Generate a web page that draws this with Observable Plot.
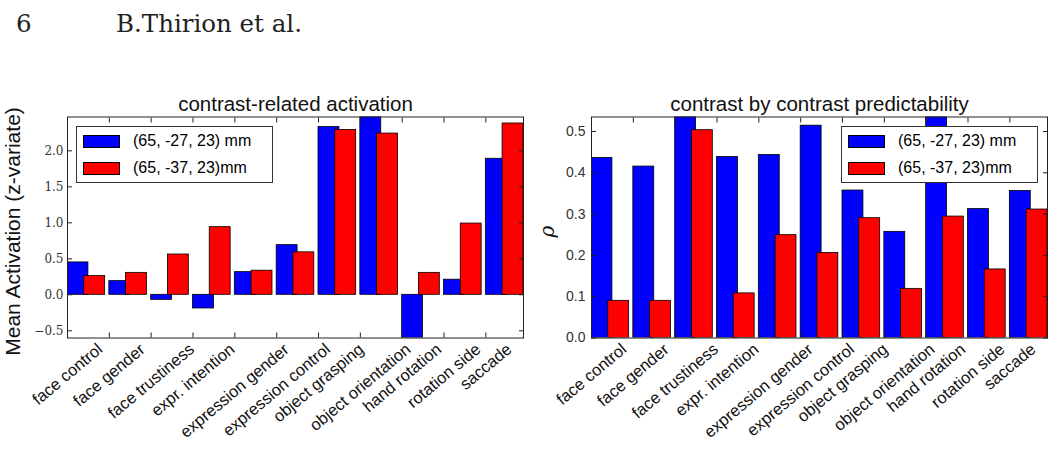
<!DOCTYPE html>
<html><head><meta charset="utf-8">
<script src="https://cdn.jsdelivr.net/npm/d3@7"></script>
<script src="https://cdn.jsdelivr.net/npm/@observablehq/plot@0.6"></script>
<style>
body{margin:0;background:#fff;width:1060px;height:453px;overflow:hidden;position:relative;font-family:"Liberation Sans",Arial,sans-serif;color:#000}
.abs{position:absolute}
.hdr{font-family:"DejaVu Serif",serif;font-size:24.5px;color:#222;line-height:1;white-space:nowrap}
.legend{position:absolute;width:197px;height:57px;border:1px solid #333;background:#fff;box-sizing:border-box}
.legend .row{position:absolute;left:6px;height:14px;display:flex;align-items:center;white-space:nowrap;font-size:16px}
.legend .sw{width:37px;height:13px;border:1px solid #000;box-sizing:border-box;margin-right:13px}
svg{overflow:visible}
</style></head><body>
<div class="abs hdr" style="left:16px;top:12px">6</div>
<div class="abs hdr" style="left:116px;top:12px">B.Thirion et al.</div>
<div id="left" class="abs" style="left:0;top:0"></div>
<div id="right" class="abs" style="left:530px;top:0"></div>
<script>
const categories = ["face control","face gender","face trustiness","expr. intention","expression gender","expression control","object grasping","object orientation","hand rotation","rotation side","saccade"];
const activationBlue = [0.45, 0.19, -0.07, -0.19, 0.315, 0.69, 2.33, 2.47, -0.6, 0.21, 1.89];
const activationRed  = [0.26, 0.305, 0.56, 0.94, 0.335, 0.59, 2.29, 2.24, 0.305, 0.99, 2.38];
const predictBlue = [0.436, 0.415, 0.535, 0.438, 0.443, 0.514, 0.357, 0.257, 0.535, 0.312, 0.356];
const predictRed  = [0.09, 0.09, 0.503, 0.108, 0.249, 0.206, 0.29, 0.119, 0.294, 0.166, 0.311];
const seriesNames = ["(65, -27, 23) mm", "(65, -37, 23)mm"];
const seriesColors = ["#0000ff", "#ff0000"];
const activationTicks = [-0.5, 0, 0.5, 1, 1.5, 2];
const rhoTicks = [0, 0.1, 0.2, 0.3, 0.4, 0.5];

function makeChart(cfg) {
  const idx = d3.range(categories.length);
  const blueRows = idx.map(i => ({i, v: cfg.blue[i]}));
  const redRows = idx.map(i => ({i, v: cfg.red[i]}));
  const yDomain = [Math.min(0, d3.min(cfg.blue), d3.min(cfg.red)), Math.max(d3.max(cfg.blue), d3.max(cfg.red))];
  const fmt = d3.format(".1f");
  return Plot.plot({
    width: 530, height: 453,
    marginTop: 116.5, marginBottom: 115.5, marginLeft: cfg.marginLeft, marginRight: cfg.marginRight,
    style: {fontFamily: '"Liberation Sans", Arial, sans-serif', background: "transparent"},
    x: {domain: [0, categories.length - 0.1], axis: null},
    y: {domain: yDomain, axis: null},
    marks: [
      Plot.rect(blueRows, {x1: d => d.i, x2: d => d.i + 0.5, y1: 0, y2: "v", fill: seriesColors[0], stroke: "#000", strokeWidth: 0.8, clip: true}),
      Plot.rect(redRows, {x1: d => d.i + 0.4, x2: d => d.i + 0.9, y1: 0, y2: "v", fill: seriesColors[1], stroke: "#000", strokeWidth: 0.8, clip: true}),
      Plot.frame({stroke: "#222", strokeWidth: 1}),
      Plot.axisX({anchor: "bottom", ticks: idx, tickSize: -5, tickFormat: () => "", label: null, stroke: "#222"}),
      Plot.axisX({anchor: "top", ticks: idx, tickSize: -5, tickFormat: () => "", label: null, stroke: "#222"}),
      Plot.axisY({anchor: "left", ticks: cfg.yTicks, tickSize: -5, tickFormat: () => "", label: null, stroke: "#222"}),
      Plot.axisY({anchor: "right", ticks: cfg.yTicks, tickSize: -5, tickFormat: () => "", label: null, stroke: "#222"}),
      Plot.text(cfg.yTicks, {x: 0, y: d => d, text: d => fmt(d), textAnchor: "end", dx: cfg.tickPad, fontSize: cfg.tickFontSize, fontFamily: cfg.tickFont, fill: "#333"}),
      Plot.text(categories, {x: (d, i) => i, frameAnchor: "bottom", text: d => d, rotate: -40, textAnchor: "middle", lineAnchor: "middle", fontSize: 16.5, fill: "#111"}),
      Plot.text([cfg.title], {frameAnchor: "top", textAnchor: "middle", lineAnchor: "bottom", dy: -6, fontSize: 20.5, fill: "#111"}),
      Plot.text([cfg.ylabel], {frameAnchor: "left", textAnchor: "middle", lineAnchor: "middle", rotate: -90, dx: cfg.ylabelDx, dy: 4, fontSize: cfg.ylabelSize, fontFamily: cfg.ylabelFont, fontStyle: cfg.ylabelStyle, fill: "#111"})
    ]
  });
}

function fixLabels(svg, cfg) {
  const frameBottom = 453 - 115.5;
  const plotW = 530 - cfg.marginLeft - cfg.marginRight;
  const sb = svg.getBoundingClientRect();
  const texts = Array.from(svg.querySelectorAll("text")).filter(t => categories.includes(t.textContent));
  texts.forEach(t => {
    const i = categories.indexOf(t.textContent);
    const r = t.getBoundingClientRect();
    const cx = r.left + r.width / 2 - sb.left;
    const top = r.top - sb.top;
    const wantCx = cfg.marginLeft + i * plotW / (categories.length - 0.1);
    const wantTop = frameBottom + 2;
    const dX = wantCx - cx, dY = wantTop - top;
    const ctm = t.parentNode.getScreenCTM();
    let dxL = dX, dyL = dY;
    if (ctm) {
      const m = ctm.inverse();
      dxL = m.a * dX + m.c * dY; dyL = m.b * dX + m.d * dY;
    }
    const old = t.getAttribute("transform") || "";
    t.setAttribute("transform", `translate(${dxL.toFixed(2)},${dyL.toFixed(2)}) ` + old);
  });
}

function addLegend(container, left, top) {
  const lg = document.createElement("div");
  lg.className = "legend";
  lg.style.left = left + "px"; lg.style.top = top + "px";
  seriesNames.forEach((name, k) => {
    const row = document.createElement("div");
    row.className = "row";
    row.style.top = (k === 0 ? 7 : 34) + "px";
    const sw = document.createElement("div");
    sw.className = "sw"; sw.style.background = seriesColors[k];
    const tx = document.createElement("span");
    tx.textContent = name;
    row.appendChild(sw); row.appendChild(tx);
    lg.appendChild(row);
  });
  container.appendChild(lg);
}

const leftCfg = {blue: activationBlue, red: activationRed, yTicks: activationTicks, marginLeft: 67, marginRight: 7,
  tickFont: '"DejaVu Serif", serif', tickFontSize: 12, tickPad: -4, title: "contrast-related activation",
  ylabel: "Mean Activation (z-variate)", ylabelDx: -54, ylabelSize: 21, ylabelFont: '"Liberation Sans", Arial, sans-serif', ylabelStyle: "normal"};
const rightCfg = {blue: predictBlue, red: predictRed, yTicks: rhoTicks, marginLeft: 61, marginRight: 13,
  tickFont: '"Liberation Sans", Arial, sans-serif', tickFontSize: 14, tickPad: -6, title: "contrast by contrast predictability",
  ylabel: "ρ", ylabelDx: -44, ylabelSize: 20, ylabelFont: '"DejaVu Serif", serif', ylabelStyle: "italic"};

const s1 = makeChart(leftCfg); document.getElementById("left").appendChild(s1);
const s2 = makeChart(rightCfg); document.getElementById("right").appendChild(s2);
fixLabels(s1, leftCfg);
fixLabels(s2, rightCfg);
addLegend(document.body, 76, 126);
addLegend(document.body, 841, 126);
</script>
</body></html>
